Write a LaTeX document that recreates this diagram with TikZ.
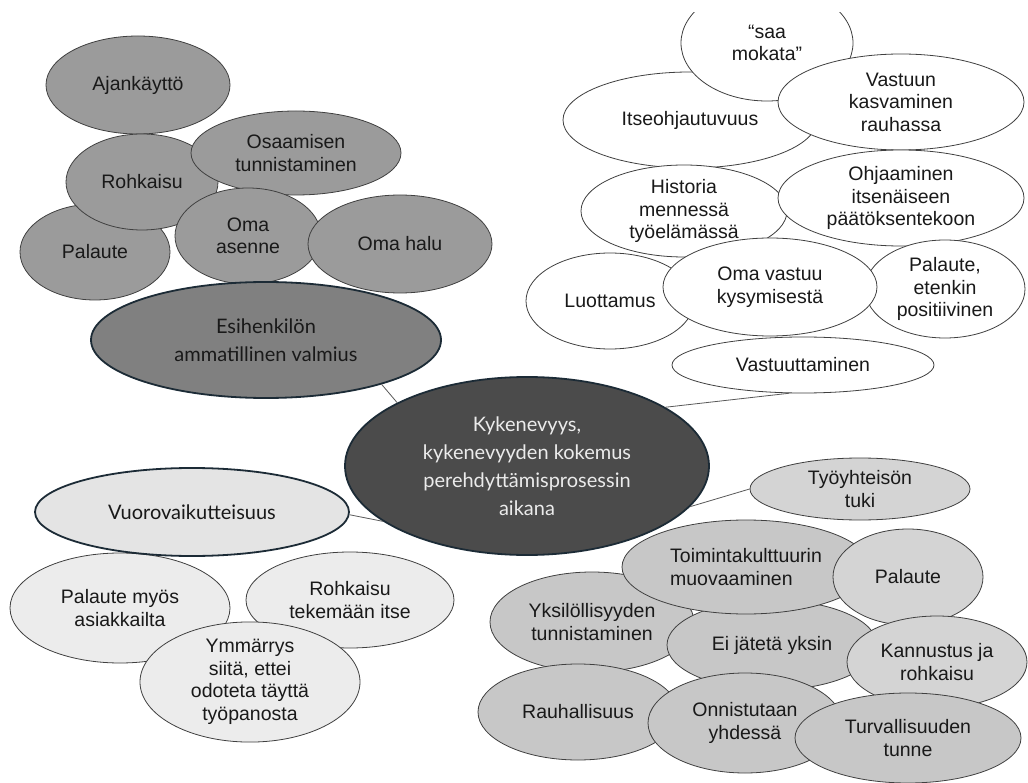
\documentclass[tikz,border=0pt]{standalone}
\usepackage{fontspec}
\setmainfont{Liberation Sans}
\newfontfamily\softfont{Lato}
\usetikzlibrary{shapes.geometric}

\definecolor{topgray}{HTML}{9B9B9B}
\definecolor{esigray}{HTML}{808080}
\definecolor{coregray}{HTML}{4B4B4B}
\definecolor{palegray}{HTML}{ECECEC}
\definecolor{vuorogray}{HTML}{E4E4E4}
\definecolor{midgray}{HTML}{C7C7C7}
\definecolor{lightmid}{HTML}{D4D4D4}
\definecolor{navyline}{HTML}{1C2B36}

\tikzset{
    bubble/.style={ellipse, draw=black!75, line width=0.8pt, inner sep=0pt,
        align=center, text=black!90, font=\fontsize{19.5}{22.5}\selectfont},
    bigbubble/.style={bubble, draw=navyline, line width=1.8pt,
        font=\softfont\fontsize{20}{28}\selectfont},
    link/.style={draw=black!65, line width=0.8pt}
}

\begin{document}
\begin{tikzpicture}[x=1pt, y=-1pt]
\useasboundingbox (0,0) rectangle (1028,783);
\fill[white] (0,0) rectangle (1028,783);
\begin{scope}
\clip (0,13) rectangle (1028,783);

% upper left
\node[bubble, fill=topgray, minimum width=184, minimum height=98] (ajank) at (138,85) {Ajankäyttö};
\node[bubble, fill=topgray, minimum width=150, minimum height=96] (palaute1) at (95,252) {Palaute};
\node[bubble, fill=topgray, minimum width=152, minimum height=96] (rohk1) at (142,182) {Rohkaisu};
\node[bubble, fill=topgray, minimum width=210, minimum height=84] (osaam) at (296,153) {Osaamisen\\tunnistaminen};
\node[bubble, fill=topgray, minimum width=146, minimum height=96] (omaas) at (248,236) {Oma\\asenne};
\node[bubble, fill=topgray, minimum width=184, minimum height=98] (omahalu) at (400,244) {Oma halu};
\node[bigbubble, fill=esigray, minimum width=350, minimum height=116] (esih) at (266,340) {Esihenkilön\\ammatillinen valmius};

% upper right
\node[bubble, fill=white, minimum width=254, minimum height=96] (itse) at (690,120) {Itseohjautuvuus};
\node[bubble, fill=white, minimum width=172, minimum height=116] (saa) at (767,43) {“saa\\mokata”};
\node[bubble, fill=white, minimum width=246, minimum height=96] (vastkasv) at (901,102) {Vastuun\\kasvaminen\\rauhassa};
\node[bubble, fill=white, minimum width=206, minimum height=92] (hist) at (684,211) {Historia\\mennessä\\työelämässä};
\node[bubble, fill=white, minimum width=246, minimum height=96] (ohj) at (901,198) {Ohjaaminen\\itsenäiseen\\päätöksentekoon};
\node[bubble, fill=white, minimum width=168, minimum height=96] (luot) at (610,301) {Luottamus};
\node[bubble, fill=white, minimum width=160, minimum height=98] (palpos) at (945,289) {Palaute,\\etenkin\\positiivinen};
\node[bubble, fill=white, minimum width=214, minimum height=98] (omavast) at (770,287) {Oma vastuu\\kysymisestä};
\node[bubble, fill=white, minimum width=262, minimum height=56] (vastuut) at (803,365) {Vastuuttaminen};

% lower left
\node[bubble, fill=palegray, minimum width=220, minimum height=110] (palasiak) at (120,608) {Palaute myös\\asiakkailta};
\node[bubble, fill=palegray, minimum width=208, minimum height=96] (rohkitse) at (350,600) {Rohkaisu\\tekemään itse};
\node[bubble, fill=palegray, minimum width=220, minimum height=114] (ymm) at (250,682) {Ymmärrys\\siitä, ettei\\odoteta täyttä\\työpanosta};
\node[bigbubble, fill=vuorogray, minimum width=314, minimum height=88] (vuoro) at (192,512) {Vuorovaikutteisuus};

% lower right
\node[bubble, fill=lightmid, minimum width=220, minimum height=62] (tyo) at (860,489) {Työyhteisön\\tuki};
\node[bubble, fill=midgray, minimum width=204, minimum height=100] (yksil) at (592,622) {Yksilöllisyyden\\tunnistaminen};
\node[bubble, fill=midgray, minimum width=210, minimum height=90] (eijat) at (772,645) {Ei jätetä yksin};
\node[bubble, fill=midgray, minimum width=248, minimum height=94, align=left] (toim) at (746,567) {Toimintakulttuurin\\muovaaminen};
\node[bubble, fill=lightmid, minimum width=150, minimum height=96] (palaute2) at (908,577) {Palaute};
\node[bubble, fill=midgray, minimum width=200, minimum height=96] (rauh) at (578,712) {Rauhallisuus};
\node[bubble, fill=midgray, minimum width=194, minimum height=100] (onn) at (745,723) {Onnistutaan\\yhdessä};
\node[bubble, fill=lightmid, minimum width=180, minimum height=92] (kann) at (937,662) {Kannustus ja\\rohkaisu};
\node[bubble, fill=midgray, minimum width=226, minimum height=90] (turv) at (908,738) {Turvallisuuden\\tunne};

% core
\node[bigbubble, fill=coregray, text=black!8, minimum width=364, minimum height=178] (kyk) at (527,466)
    {Kykenevyys,\\kykenevyyden kokemus\\perehdyttämisprosessin\\aikana};

\draw[link] (esih.-21) -- (kyk.154);
\draw[link] (vuoro.-1) -- (kyk.201);
\draw[link] (kyk.23) -- (vastuut.244);
\draw[link] (kyk.-14) -- (tyo.180);
\end{scope}
\end{tikzpicture}
\end{document}
